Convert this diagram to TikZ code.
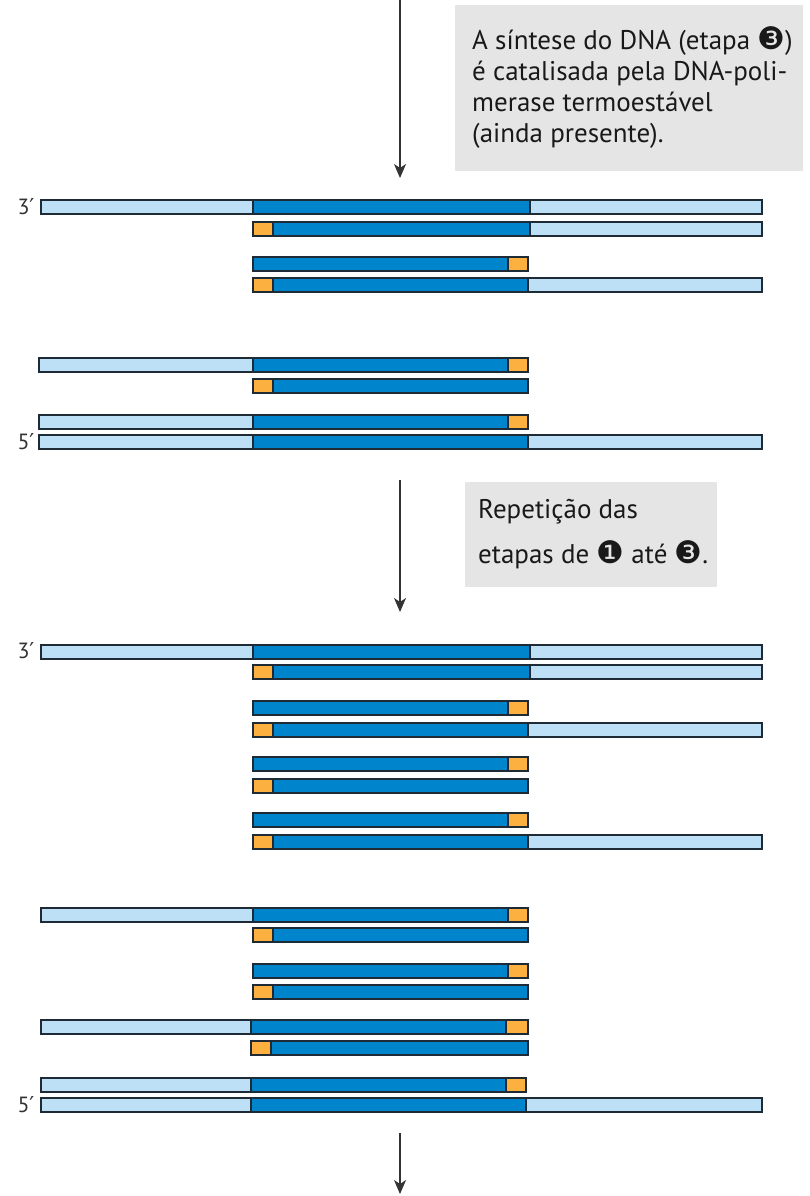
\documentclass[tikz,border=0pt]{standalone}
\usepackage{fontspec}
\setmainfont{PT Sans}
\newfontfamily\symfont{DejaVu Sans}
\usetikzlibrary{arrows.meta}
\definecolor{litestrand}{RGB}{189,224,247}
\definecolor{darkstrand}{RGB}{0,133,204}
\definecolor{primcol}{RGB}{251,176,64}
\definecolor{edgecol}{RGB}{30,42,54}
\definecolor{notecol}{gray}{0.90}
\definecolor{arrcol}{gray}{0.2}
\tikzset{
  lite/.style={fill=litestrand,draw=edgecol,line width=1.1pt},
  dark/.style={fill=darkstrand,draw=edgecol,line width=1.1pt},
  prim/.style={fill=primcol,draw=edgecol,line width=1.1pt},
  endlab/.style={font=\fontsize{22}{22}\selectfont,text=black!80},
  notetext/.style={anchor=west,align=left,inner sep=0pt,text=black!90},
  flow/.style={arrcol,line width=1.3pt,-{Stealth[length=14pt,width=12pt,inset=4pt]}},
}
\newcommand{\stepno}[1]{{\symfont\fontsize{31}{31}\selectfont #1}}
\newcommand{\primemark}{{\symfont ′}}
\begin{document}
\begin{tikzpicture}[x=1pt,y=-1pt]
  \useasboundingbox (0,0) rectangle (810,1196);
  % first round
  \coordinate (a1top) at (400,0);
  \coordinate (a1bot) at (400,178);
  \draw[flow] (a1top) -- (a1bot);
  \fill[notecol] (455,5) rectangle (803,171);
  \node[notetext,font=\fontsize{27}{31}\selectfont] (synth) at (472,88)
    {A síntese do DNA (etapa \stepno{❸})\\ é catalisada pela DNA-poli-\\ merase termoestável\\ (ainda presente).};
  \node[endlab] (top1) at (26,207) {3\primemark};
  \node[endlab] (bot1) at (26,442) {5\primemark};
  \filldraw[lite] (41,200) rectangle (253,214);
  \filldraw[dark] (253,200) rectangle (530,214);
  \filldraw[lite] (530,200) rectangle (762,214);
  \filldraw[prim] (253,222) rectangle (273,236);
  \filldraw[dark] (273,222) rectangle (530,236);
  \filldraw[lite] (530,222) rectangle (762,236);
  \filldraw[dark] (253,257) rectangle (508,271);
  \filldraw[prim] (508,257) rectangle (528,271);
  \filldraw[prim] (253,278) rectangle (273,292);
  \filldraw[dark] (273,278) rectangle (528,292);
  \filldraw[lite] (528,278) rectangle (762,292);
  \filldraw[lite] (39,358) rectangle (253,372);
  \filldraw[dark] (253,358) rectangle (508,372);
  \filldraw[prim] (508,358) rectangle (528,372);
  \filldraw[prim] (253,379) rectangle (273,393);
  \filldraw[dark] (273,379) rectangle (528,393);
  \filldraw[lite] (39,415) rectangle (253,429);
  \filldraw[dark] (253,415) rectangle (508,429);
  \filldraw[prim] (508,415) rectangle (528,429);
  \filldraw[lite] (39,435) rectangle (253,449);
  \filldraw[dark] (253,435) rectangle (528,449);
  \filldraw[lite] (528,435) rectangle (762,449);
  % repeat
  \coordinate (a2top) at (400,480);
  \coordinate (a2bot) at (400,612);
  \draw[flow] (a2top) -- (a2bot);
  \fill[notecol] (465,482) rectangle (717,587);
  \node[notetext,font=\fontsize{27}{45}\selectfont] (again) at (478,534)
    {Repetição das\\ etapas de \stepno{❶}\ até \stepno{❸}.};
  \node[endlab] (top2) at (26,651) {3\primemark};
  \node[endlab] (bot2) at (26,1105) {5\primemark};
  \filldraw[lite] (41,645) rectangle (253,659);
  \filldraw[dark] (253,645) rectangle (530,659);
  \filldraw[lite] (530,645) rectangle (762,659);
  \filldraw[prim] (253,665) rectangle (273,679);
  \filldraw[dark] (273,665) rectangle (530,679);
  \filldraw[lite] (530,665) rectangle (762,679);
  \filldraw[dark] (253,701) rectangle (508,715);
  \filldraw[prim] (508,701) rectangle (528,715);
  \filldraw[prim] (253,723) rectangle (273,737);
  \filldraw[dark] (273,723) rectangle (528,737);
  \filldraw[lite] (528,723) rectangle (762,737);
  \filldraw[dark] (253,757) rectangle (508,771);
  \filldraw[prim] (508,757) rectangle (528,771);
  \filldraw[prim] (253,779) rectangle (273,793);
  \filldraw[dark] (273,779) rectangle (528,793);
  \filldraw[dark] (253,813) rectangle (508,827);
  \filldraw[prim] (508,813) rectangle (528,827);
  \filldraw[prim] (253,835) rectangle (273,849);
  \filldraw[dark] (273,835) rectangle (528,849);
  \filldraw[lite] (528,835) rectangle (762,849);
  \filldraw[lite] (41,908) rectangle (253,922);
  \filldraw[dark] (253,908) rectangle (508,922);
  \filldraw[prim] (508,908) rectangle (528,922);
  \filldraw[prim] (253,928) rectangle (273,942);
  \filldraw[dark] (273,928) rectangle (528,942);
  \filldraw[dark] (253,964) rectangle (508,978);
  \filldraw[prim] (508,964) rectangle (528,978);
  \filldraw[prim] (253,985) rectangle (273,999);
  \filldraw[dark] (273,985) rectangle (528,999);
  \filldraw[lite] (41,1020) rectangle (251,1034);
  \filldraw[dark] (251,1020) rectangle (506,1034);
  \filldraw[prim] (506,1020) rectangle (528,1034);
  \filldraw[prim] (251,1041) rectangle (271,1055);
  \filldraw[dark] (271,1041) rectangle (528,1055);
  \filldraw[lite] (41,1078) rectangle (251,1092);
  \filldraw[dark] (251,1078) rectangle (506,1092);
  \filldraw[prim] (506,1078) rectangle (526,1092);
  \filldraw[lite] (41,1098) rectangle (251,1112);
  \filldraw[dark] (251,1098) rectangle (526,1112);
  \filldraw[lite] (526,1098) rectangle (762,1112);
  % onward
  \coordinate (a3top) at (400,1133);
  \coordinate (a3bot) at (400,1194);
  \draw[flow] (a3top) -- (a3bot);
\end{tikzpicture}
\end{document}
